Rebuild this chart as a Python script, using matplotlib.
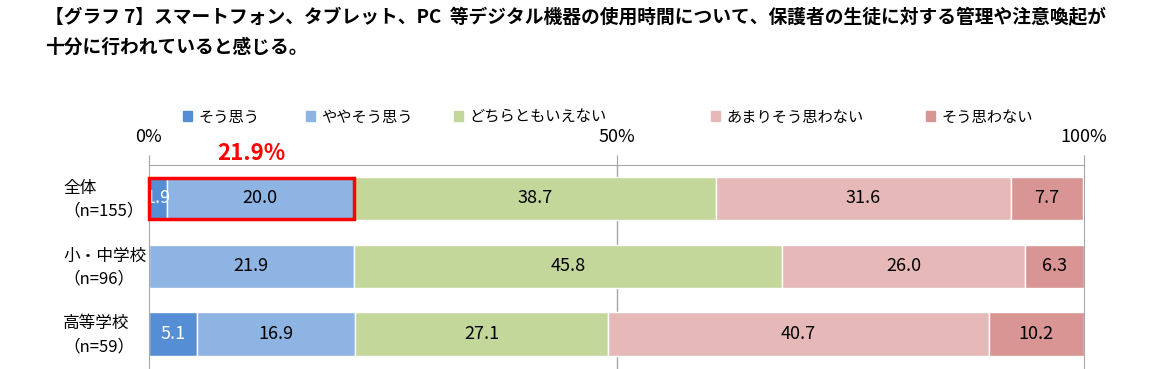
import matplotlib.pyplot as plt
from matplotlib.patches import Rectangle, Patch
from matplotlib.transforms import blended_transform_factory

plt.rcParams['font.family'] = ['Noto Sans CJK JP', 'DejaVu Sans']

groups = ['全体\n（n=155）', '小・中学校\n（n=96）', '高等学校\n（n=59）']
answers = ['そう思う', 'ややそう思う', 'どちらともいえない', 'あまりそう思わない', 'そう思わない']
values = [
    [1.9, 20.0, 38.7, 31.6, 7.7],
    [0.0, 21.9, 45.8, 26.0, 6.3],
    [5.1, 16.9, 27.1, 40.7, 10.2],
]
colors = ['#558ED5', '#8EB4E3', '#C4D79B', '#E6B9B8', '#D99594']
text_colors = ['white', 'black', 'black', 'black', 'black']
highlight = 21.9

fig = plt.figure(figsize=(11.7, 3.69), dpi=100)
ax = fig.add_axes([149 / 1170, 0, (1084 - 149) / 1170, 1 - 165 / 369])

bar_h = 0.64
for i, row in enumerate(values):
    left = 0
    for j, v in enumerate(row):
        if v > 0:
            ax.barh(i, v, left=left, height=bar_h, color=colors[j],
                    edgecolor='white', linewidth=1, zorder=2)
            ax.text(left + v / 2, i, f'{v:.1f}', ha='center', va='center',
                    fontsize=13, color=text_colors[j], zorder=3)
        left += v

# red frame around the "agree" part of the total row
ax.add_patch(Rectangle((0, -bar_h / 2 + 0.02), highlight, bar_h - 0.04,
                       fill=False, edgecolor='#FF0000', linewidth=2.5, zorder=4,
                       clip_on=False))
ax.text(highlight / 2, -0.67, f'{highlight}%', ha='center', va='center',
        fontsize=16, fontweight='bold', color='#FF0000')

ax.set_xlim(0, 100)
ax.set_ylim(2.517, -0.494)
ax.set_xticks([0, 50, 100])
ax.set_xticklabels(['0%', '50%', '100%'], fontsize=13)
ax.xaxis.tick_top()
ax.tick_params(axis='x', length=7, color='#A6A6A6', pad=7)
ax.set_yticks([])
ax.axvline(50, color='#A6A6A6', linewidth=1, zorder=1)
for s in ['top', 'left', 'right']:
    ax.spines[s].set_color('#A6A6A6')
ax.spines['bottom'].set_visible(False)

trans = blended_transform_factory(fig.transFigure, ax.transData)
for i, g in enumerate(groups):
    ax.text(63 / 1170, i + 0.02, g, transform=trans, ha='left', va='center',
            fontsize=12, linespacing=1.45)

# legend, one entry at a time to follow the original spacing
legend_x = [183, 306, 454, 711, 926]
for x, name, c in zip(legend_x, answers, colors):
    fig.legend(handles=[Patch(color=c)], labels=[name], loc='center left',
               bbox_to_anchor=(x / 1170, 1 - 117 / 369), frameon=False,
               fontsize=11, handlelength=0.6, handleheight=0.6,
               handletextpad=0.4, borderaxespad=0, borderpad=0)

fig.text(45 / 1170, 1 - 18 / 369,
         '【グラフ 7】スマートフォン、タブレット、PC  等デジタル機器の使用時間について、保護者の生徒に対する管理や注意喚起が',
         fontsize=13.5, fontweight='bold', ha='left', va='center')
fig.text(45 / 1170, 1 - 47 / 369, '十分に行われていると感じる。',
         fontsize=13.5, fontweight='bold', ha='left', va='center')

fig.savefig('out.png', dpi=100)
